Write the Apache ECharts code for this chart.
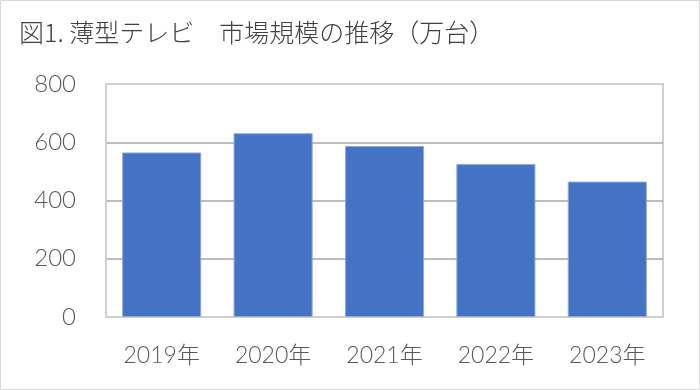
<!DOCTYPE html>
<html><head><meta charset="utf-8">
<script src="https://cdn.jsdelivr.net/npm/echarts@6/dist/echarts.min.js"></script>
<style>html,body{margin:0;padding:0;background:#fff}#c{width:700px;height:390px}</style>
</head><body><div id="c"></div>
<script>
const titleText = '図1. 薄型テレビ　市場規模の推移（万台）';
const categories = ['2019年', '2020年', '2021年', '2022年', '2023年'];
const values = [565, 631, 587, 525, 465];
const yMin = 0, yMax = 800, yStep = 200;

const chart = echarts.init(document.getElementById('c'), null, {renderer: 'canvas'});
chart.setOption({
  animation: false,
  backgroundColor: '#fff',
  title: {
    text: titleText, left: 14, top: 15,
    textStyle: {fontFamily: '"Noto Sans CJK JP"', fontSize: 25, fontWeight: 300, color: '#404040'}
  },
  graphic: [{type: 'rect', shape: {x: 0.5, y: 0.5, width: 699, height: 389},
    style: {fill: 'none', stroke: '#d9d9d9', lineWidth: 1}, z: -1}],
  grid: {left: 106, right: 37, top: 84, bottom: 73, show: true, borderColor: '#d0d0d0', borderWidth: 2, containLabel: false},
  xAxis: {
    type: 'category', data: categories,
    axisLine: {show: true, lineStyle: {color: '#d0d0d0', width: 2}},
    axisTick: {show: false},
    axisLabel: {margin: 27, fontFamily: 'Lato, "Noto Sans CJK JP"', fontSize: 23, fontWeight: 300, color: '#595959'}
  },
  yAxis: {
    type: 'value', min: yMin, max: yMax, interval: yStep,
    axisLine: {show: true, lineStyle: {color: '#d0d0d0', width: 2}},
    axisTick: {show: false},
    splitLine: {lineStyle: {color: ['#d0d0d0', '#a6a6a6', '#a6a6a6', '#a6a6a6', '#d0d0d0'], width: 1.5}},
    axisLabel: {margin: 30, fontFamily: 'Lato', fontSize: 24, fontWeight: 300, color: '#595959'}
  },
  series: [{
    type: 'bar', data: values, barWidth: '71%',
    itemStyle: {color: '#4472C4', borderColor: '#8faadc', borderWidth: 1}
  }]
});
</script></body></html>
